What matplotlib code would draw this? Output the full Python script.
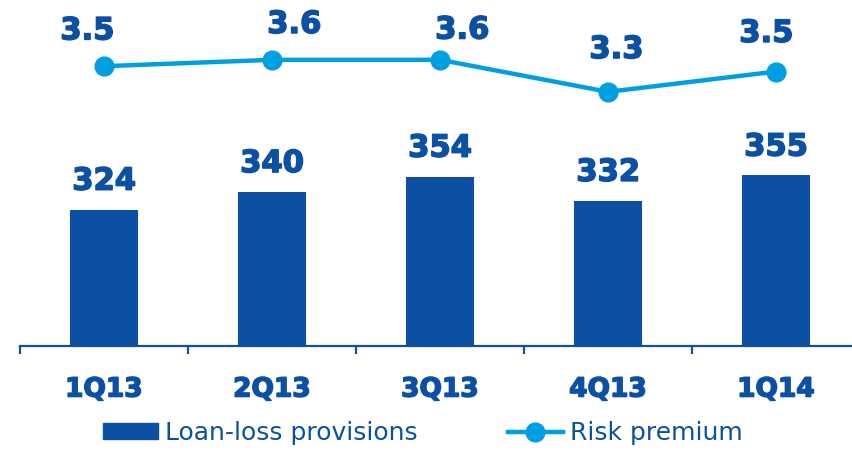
import matplotlib.pyplot as plt
import matplotlib.patheffects as pe
from matplotlib.patches import Patch
from matplotlib.lines import Line2D

plt.rcParams['font.family'] = ['DejaVu Sans']

quarters = ['1Q13', '2Q13', '3Q13', '4Q13', '1Q14']
provisions = [324, 340, 354, 332, 355]
risk_premium = [3.54, 3.60, 3.60, 3.30, 3.49]

dark_blue = '#0B50A3'
light_blue = '#009FE3'
# fatten the bold text a bit, the original font is heavier than DejaVu bold
heavy = [pe.withStroke(linewidth=1.1, foreground=dark_blue)]

fig = plt.figure(figsize=(8.52, 4.51), dpi=100)
# axes slightly wider than the canvas so the axis line runs off the right edge
ax = fig.add_axes([20 / 852, 105 / 451, 840 / 852, 346 / 451])
x = range(len(quarters))

# bars
ax.bar(x, provisions, width=0.4, color=dark_blue, zorder=2)
ax.set_ylim(200, 514.5)
ax.set_xlim(-0.5, len(quarters) - 0.5)
for i, v in enumerate(provisions):
    ax.annotate(str(v), (i, v), xytext=(0, 10), textcoords='offset points',
                ha='center', va='bottom', fontsize=22, fontweight='bold', color=dark_blue,
                path_effects=heavy)

# risk premium line on a second scale
ax2 = ax.twinx()
ax2.plot(x, risk_premium, color=light_blue, lw=3.2, marker='o', ms=13.5, zorder=3)
ax2.set_ylim(0.92, 4.16)
ax2.axis('off')
# little nudges so labels sit where they do in the original
label_dx = [-12, 16, 16, 6, -7]
label_dy = [15, 15, 11, 20, 17]
for i, v in enumerate(risk_premium):
    ax2.annotate(f'{v:.1f}', (i, v), xytext=(label_dx[i], label_dy[i]), textcoords='offset points',
                 ha='center', va='bottom', fontsize=22, fontweight='bold', color=dark_blue,
                 path_effects=heavy)

# x axis styling
for s in ['top', 'right', 'left']:
    ax.spines[s].set_visible(False)
ax.spines['bottom'].set_color(dark_blue)
ax.spines['bottom'].set_linewidth(1.6)
ax.set_yticks([])
ax.set_xticks(list(x))
ax.set_xticklabels(quarters, fontsize=19, fontweight='bold', color=dark_blue)
for t in ax.get_xticklabels():
    t.set_path_effects(heavy)
ax.tick_params(axis='x', which='major', length=0, pad=22)
ax.set_xticks([i - 0.5 for i in x], minor=True)
ax.tick_params(axis='x', which='minor', length=6, width=1.6, color=dark_blue, direction='out')

handles = [Patch(color=dark_blue, label='Loan-loss provisions'),
           Line2D([], [], color=light_blue, lw=3.2, marker='o', ms=13.5, label='Risk premium')]
leg = fig.legend(handles=handles, loc='center', bbox_to_anchor=(423 / 852, 1 - 433 / 451),
                 ncol=2, frameon=False, fontsize=18, handlelength=2.2, handleheight=0.6,
                 handletextpad=0.3, columnspacing=3.6)
for t in leg.get_texts():
    t.set_color(dark_blue)

plt.savefig('out.png', dpi=100)
